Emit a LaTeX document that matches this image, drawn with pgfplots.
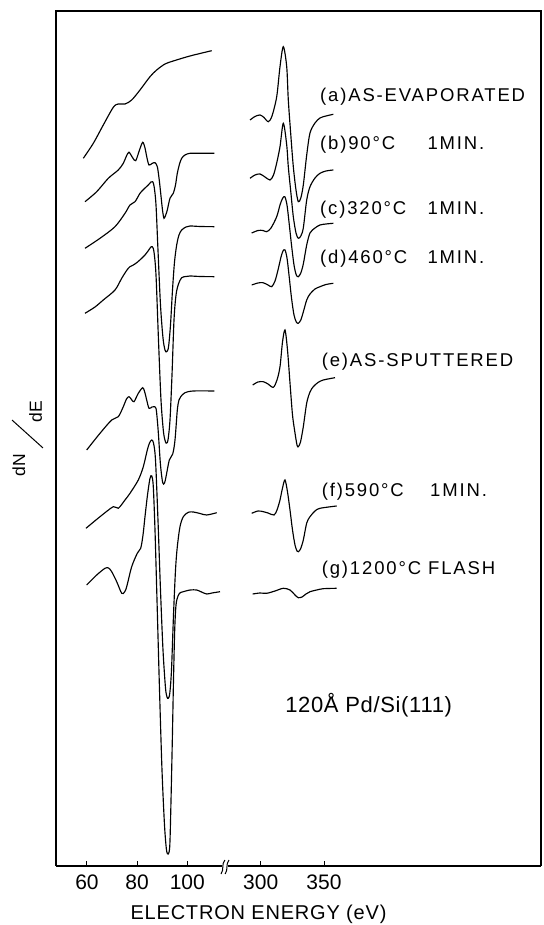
\documentclass[border=0pt]{standalone}
\usepackage{fontspec}
\setmainfont{Liberation Sans}
\newfontfamily\labfont[LetterSpace=10]{Liberation Sans}
\newfontfamily\infont[LetterSpace=3]{Liberation Sans}
\newfontfamily\axfont[LetterSpace=4]{Liberation Sans}
\usepackage{graphicx}
\usepackage{pgfplots}
\pgfplotsset{compat=1.18}

\pgfplotsset{
  spec/.style={black, line width=1.15pt, smooth, tension=0.5, no markers},
  panel/.style={
    scale only axis, height=855pt, ymin=0, ymax=855,
    axis x line*=bottom, axis y line=none, ytick=\empty,
    tick align=inside, major tick length=5pt,
    x axis line style={line width=1.3pt},
    every tick/.style={black, line width=1pt},
    xticklabel style={font=\fontsize{21}{21}\selectfont, inner sep=0pt, yshift=-9pt},
    clip=false, anchor=south west,
  },
}
\tikzset{
  frame/.style={line width=1.3pt, line join=miter},
  tag/.style={anchor=base west, font={\labfont\fontsize{18.5}{20}\selectfont}},
}

\begin{document}
\begin{tikzpicture}
\path[use as bounding box] (0,0) rectangle (543pt,925pt);

% ---------------- low-energy panel (Si LVV) ----------------
\begin{axis}[panel, at={(56pt,59pt)}, width=169pt,
  xmin=47.64, xmax=115.04, xtick={60,80,100}, xticklabels={60,80,100}]
\draw[frame] (rel axis cs:1,1) -- (rel axis cs:0,1) -- (rel axis cs:0,0);

% (a) as-evaporated
\addplot[spec] coordinates {(58.53,707.7) (62.52,722.7) (66.50,741) (70.49,758.7)
 (72.48,762) (75.16,762) (77.83,766) (81.14,776) (85.13,789.3) (87.80,796)
 (91.11,802) (94.42,805) (101.08,810) (109.73,815.3)};
% (b) 90 C
\addplot[spec] coordinates {(59.21,664.3) (63.87,674.3) (68.50,687.7) (72.48,696)
 (74.48,702.7) (75.75,710) (76.75,713.7) (78.15,708.5) (79.42,705.3) (80.94,716)
 (82.22,723.7) (83.13,718) (83.93,708) (84.73,701) (85.92,702.5) (87.12,703.3)
 (88.04,699.3) (88.72,688) (89.40,672.7) (90.11,656) (90.71,647.7) (91.39,651)
 (92.03,656) (93.10,667.7) (94.42,672.7) (95.30,681) (96.02,692.7) (96.90,702)
 (97.77,707.7) (99.08,711) (101.08,712.7) (105.07,712.7) (110.77,712.7)};
% (c) 320 C
\addplot[spec] coordinates {(59.21,617.7) (65.19,627.7) (71.17,639.3) (75.16,652.7)
 (77.15,661) (79.15,664.3) (81.14,672.7) (82.73,677) (84.45,681) (85.53,684)
 (86.20,684.3) (86.80,679) (87.52,661) (88.31,616) (89.31,561) (90.31,528)
 (91.11,516) (91.79,514.3) (92.51,519) (93.30,541) (94.10,576) (94.90,604)
 (95.77,621) (96.69,631) (97.77,636) (99.48,639) (101.08,640) (105.07,639.5)
 (110.77,639.3)};
% (d) 460 C
\addplot[spec] coordinates {(59.21,552.7) (63.19,559) (66.50,566) (71.17,576)
 (73.84,587.7) (75.95,596) (77.15,599.3) (78.47,601) (79.94,603.5) (81.82,607.7)
 (83.13,611) (84.45,615.3) (85.33,618.5) (86.04,619.3) (86.72,614) (87.52,591)
 (88.51,526) (89.51,466) (90.51,434) (91.31,424) (91.79,423) (92.31,426)
 (93.10,446) (93.90,491) (94.70,546) (95.50,571) (96.49,582) (97.77,588.3)
 (99.48,589.5) (101.08,590) (105.07,589.5) (110.77,589.3)};
% (e) as-sputtered
\addplot[spec] coordinates {(59.88,416) (65.19,432.7) (69.85,446) (72.48,449.3)
 (74.48,459.3) (75.75,467) (76.75,469.3) (77.75,466.5) (78.75,464.3) (80.46,472.7)
 (82.22,478.3) (83.01,474) (83.81,466) (84.73,457.7) (85.92,459) (86.72,459.3)
 (87.52,457.7) (88.04,446) (88.51,431) (89.31,401) (90.19,383.3) (90.91,383)
 (91.52,389.3) (92.83,406) (94.19,412) (95.10,426) (96.02,456) (96.69,466)
 (97.37,469.3) (99.08,473.3) (102.40,475) (110.77,475)};
% (f) 590 C
\addplot[spec] coordinates {(59.60,337.7) (65.19,349.3) (70.49,359.3) (72.48,357.7)
 (75.16,366) (77.15,372.7) (80.46,386) (82.46,399.3) (84.05,416) (84.93,423)
 (85.80,426) (86.52,423) (87.32,406) (88.31,346) (89.31,276) (90.31,216)
 (91.31,178) (91.91,169) (92.43,167.7) (93.03,173) (93.70,196) (94.50,251)
 (95.30,296) (96.02,319.3) (97.09,339.3) (98.41,349.3) (100.40,353.7)
 (102.40,354) (105.07,352.5) (107.74,351) (111.73,353.3)};
% (g) 1200 C flash
\addplot[spec] coordinates {(59.88,281) (63.87,291) (67.18,297.7) (68.58,298)
 (69.85,294.3) (71.85,284.3) (73.84,272.7) (74.96,274) (75.84,279.3) (77.83,299.3)
 (80.06,312.7) (81.42,317.7) (82.34,331) (83.13,349.3) (84.13,371) (85.13,387.7)
 (85.85,390) (86.44,379.3) (87.12,336) (87.92,266) (88.92,176) (89.91,96)
 (90.91,41) (91.71,16) (92.43,12) (93.03,21) (93.51,66) (94.03,126) (94.50,186)
 (94.98,236) (95.50,261) (96.30,270) (97.29,273.5) (98.41,274.3) (101.08,276)
 (103.75,276) (105.66,274) (107.74,272) (109.85,273) (113.04,274.3)};

% axis titles
\node[rotate=90, font=\fontsize{17.5}{18}\selectfont] at (rel axis cs:-0.219,0.4684) {dN};
\node[rotate=90, font=\fontsize{17.5}{18}\selectfont] at (rel axis cs:-0.1213,0.531) {dE};
\draw[line width=1pt] (rel axis cs:-0.0769,0.4889) -- (rel axis cs:-0.2604,0.5216);
\node[anchor=base, font={\axfont\fontsize{20}{20}\selectfont}] at (axis cs:128.4,-53) {ELECTRON ENERGY (eV)};
\end{axis}

% ---------------- high-energy panel (Pd MNN) ----------------
\begin{axis}[panel, at={(225pt,59pt)}, width=316pt,
  xmin=271.8, xmax=521.4, xtick={300,350}, xticklabels={300,350}]
\draw[frame] (rel axis cs:0,1) -- (rel axis cs:1,1) -- (rel axis cs:1,0);
% axis break
\fill[white] (rel axis cs:-0.011,-0.004) rectangle (rel axis cs:0.011,0.004);
\draw[line width=1pt] (rel axis cs:-0.0127,-0.0094) .. controls (rel axis cs:-0.002,-0.004) and (rel axis cs:-0.012,0.002) .. (rel axis cs:-0.0005,0.0070);
\draw[line width=1pt] (rel axis cs:0.0005,-0.0094) .. controls (rel axis cs:0.011,-0.004) and (rel axis cs:0.001,0.002) .. (rel axis cs:0.0127,0.0070);

% (a)
\addplot[spec] coordinates {(291.55,746) (295.50,749.5) (299.45,751) (302.61,748.5)
 (306.00,744.3) (308.93,750) (312.64,769.3) (315.24,799.3) (317.85,819.3)
 (320.54,799.3) (321.80,766) (323.78,731) (325.75,699.3) (327.88,676) (329.70,664.3)
 (331.67,668) (333.65,681) (336.34,711) (338.94,733) (342.89,743) (346.84,748)
 (351.58,750) (357.35,751.7)};
% (b)
\addplot[spec] coordinates {(291.55,687.7) (295.50,691) (299.45,692) (303.40,689)
 (307.35,686) (310.11,691) (312.64,703) (315.24,719.3) (317.85,742.7) (320.54,721)
 (321.80,699.3) (323.78,674) (325.75,649.3) (327.88,633) (329.70,627.7) (331.67,630)
 (333.65,638) (336.34,666) (338.94,679.3) (342.89,688) (346.84,692.7) (351.58,695)
 (357.35,696)};
% (c)
\addplot[spec] coordinates {(292.89,633) (297.87,635.5) (301.82,635.5) (304.74,634.3)
 (308.14,638) (312.64,649.3) (315.24,661) (317.22,667.5) (319.04,669.3) (320.77,661)
 (322.35,644) (324.33,621) (326.30,601) (328.12,591) (329.70,589.3) (331.67,593)
 (333.65,602) (336.34,621) (338.94,633) (342.89,638) (346.84,641) (351.58,642)
 (357.35,642.7)};
% (d)
\addplot[spec] coordinates {(292.89,581) (297.87,583) (301.82,583.3) (305.77,581)
 (308.69,579.3) (311.30,585) (313.67,596) (316.04,609) (317.62,615) (319.19,616)
 (320.77,608) (322.35,591) (324.33,568) (326.30,551) (328.12,544) (329.70,542.7)
 (331.67,546) (333.65,554) (336.34,566) (338.94,572) (342.89,577) (346.84,579.3)
 (351.58,581.5) (357.35,582.7)};
% (e)
\addplot[spec] coordinates {(293.68,481) (297.87,484) (302.05,484.3) (305.77,482)
 (309.95,478.7) (312.87,486) (315.24,499.3) (317.22,524) (319.19,536) (321.17,516)
 (323.14,483) (325.12,451) (327.09,433) (328.67,421) (329.70,419.3) (331.44,424)
 (333.65,439.3) (336.34,463) (338.94,474) (341.55,479.3) (345.26,483.5)
 (349.45,486) (358.69,488.3)};
% (f)
\addplot[spec] coordinates {(292.89,352.7) (297.87,355) (302.05,354.3) (305.77,353)
 (310.50,351) (312.87,356) (315.24,366) (317.22,378) (319.19,386) (321.17,374)
 (323.14,356) (325.12,336) (327.09,321) (328.67,315) (329.70,314.3) (331.44,317)
 (333.65,326) (336.34,343) (338.94,349.3) (342.89,355) (346.84,357.7) (360.03,360)};
% (g)
\addplot[spec] coordinates {(293.68,272) (299.45,273) (304.74,272.7) (311.30,275)
 (317.85,277.7) (323.14,276) (327.09,271) (329.70,268.3) (332.62,269) (335.78,272)
 (338.94,274.3) (344.23,276) (349.45,277.3) (360.03,277.7)};

% curve tags
\node[tag] at (axis cs:344.2,764.3) {(a)AS-EVAPORATED};
\node[tag] at (axis cs:344.2,716) {(b)90°C};
\node[tag] at (axis cs:429.0,716) {1MIN.};
\node[tag] at (axis cs:344.2,651) {(c)320°C};
\node[tag] at (axis cs:429.0,651) {1MIN.};
\node[tag] at (axis cs:344.2,602.7) {(d)460°C};
\node[tag] at (axis cs:429.0,602.7) {1MIN.};
\node[tag] at (axis cs:345.5,499.3) {(e)AS-SPUTTERED};
\node[tag] at (axis cs:345.5,369.3) {(f)590°C};
\node[tag] at (axis cs:431.1,369.3) {1MIN.};
\node[tag] at (axis cs:345.5,291) {(g)1200°C FLASH};
\node[anchor=base west, font={\infont\fontsize{22}{24}\selectfont}] at (axis cs:316.6,153.5) {120Å Pd/Si(111)};
\end{axis}
\end{tikzpicture}
\end{document}
